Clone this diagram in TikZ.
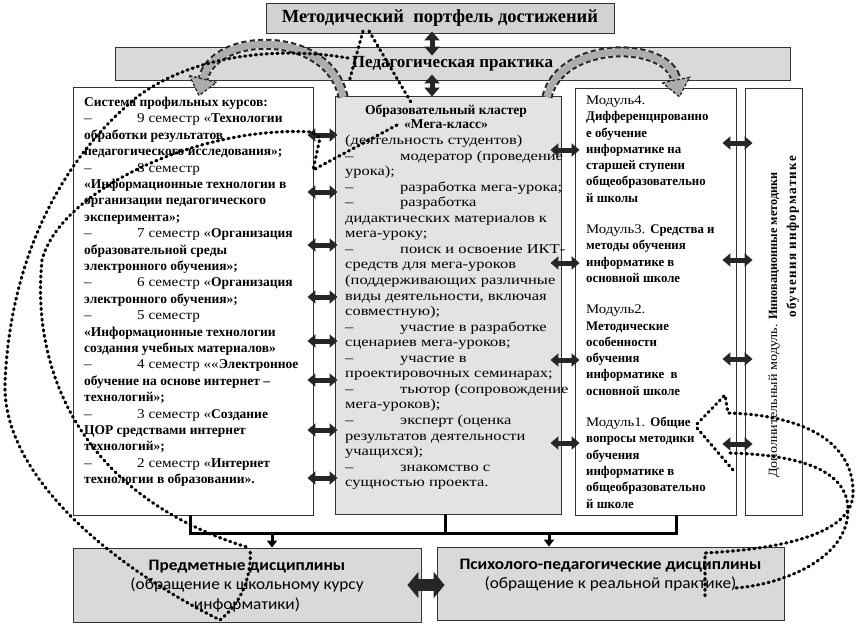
\documentclass[tikz,border=0pt]{standalone}
\usepackage{fontspec}
\setmainfont{Liberation Serif}
\newfontfamily\wserif[FakeStretch=1.12]{Liberation Serif}
\newfontfamily\cserif[FakeStretch=1.22]{Liberation Serif}
\newfontfamily\bsf[FakeStretch=1.0]{Liberation Serif Bold}
\newfontfamily\bsfm[FakeStretch=0.97]{Liberation Serif Bold}
\newfontfamily\calib[FakeStretch=1.08]{Carlito}
\newcommand\B[1]{{\bsf #1}}
\newcommand\M[1]{{\bsfm #1}}
\usetikzlibrary{arrows.meta}
\newcommand\ldash{\makebox[53pt][l]{–}}
\newcommand\cdash{\makebox[55pt][l]{–}}
\tikzset{
 box/.style={draw=black!80, line width=0.9pt, inner sep=0pt},
 graybox/.style={box, fill=gray!30},
 txt/.style={inner sep=0pt, anchor=north west, align=left},
 dbl/.style={draw=black!85, line width=5pt, {Triangle[length=8pt,width=13pt]}-{Triangle[length=8pt,width=13pt]}},
 vdbl/.style={draw=black!85, line width=5pt, {Triangle[length=9pt,width=15pt]}-{Triangle[length=9pt,width=15pt]}},
 bigdbl/.style={draw=black!85, line width=12pt, {Triangle[length=11pt,width=26pt]}-{Triangle[length=11pt,width=26pt]}},
 bracket/.style={line width=3pt, black},
 bracketarrow/.style={line width=3pt, black, -{Triangle[length=7pt,width=10pt]}},
 dots/.style={line width=3.1pt, dash pattern=on 1.2pt off 4.2pt, line cap=round, black},
 arcout/.style={line width=11pt, black!85, dash pattern=on 5pt off 3pt},
 arcin/.style={line width=7pt, gray!65},
 archead/.style={fill=gray!65, draw=black!85, line width=1.3pt, dash pattern=on 3pt off 2pt},
 bodyfont/.style={font=\wserif\fontsize{13.5}{16.4}\selectfont},
}
\begin{document}
\begin{tikzpicture}[x=1pt,y=-1pt]
\useasboundingbox (0,0) rectangle (858,625);
\fill[white] (0,0) rectangle (858,625);

% boxes
\node[graybox, fill=gray!35, minimum width=348pt, minimum height=30pt,
  font=\bfseries\fontsize{18.5}{21}\selectfont] (top) at (440,18) {Методический\ \ портфель достижений};
\node[graybox, minimum width=675pt, minimum height=33pt,
  font=\bfseries\fontsize{17}{20}\selectfont] (band) at (452.5,63.5) {Педагогическая практика};
\node[box, fill=white, minimum width=240pt, minimum height=428pt] (lbox) at (193,301) {};
\node[graybox, fill=gray!22, minimum width=226pt, minimum height=418pt] (cbox) at (448,305) {};
\node[box, fill=white, minimum width=161pt, minimum height=427pt] (mbox) at (655.5,301.5) {};
\node[box, fill=white, minimum width=57pt, minimum height=427pt] (vbox) at (773.5,301.5) {};
\node[graybox, minimum width=348pt, minimum height=74pt] (blbox) at (247,585) {};
\node[graybox, minimum width=347pt, minimum height=73pt] (brbox) at (610.5,583.5) {};

% texts
\node[txt, bodyfont] (ltext) at (84,97) {%
\B{Система профильных курсов:}\\
\ldash 9 семестр «\B{Технологии}\\
\B{обработки результатов}\\
\B{педагогического исследования»;}\\
\ldash 8 семестр\\
\B{«Информационные технологии в}\\
\B{организации педагогического}\\
\B{эксперимента»;}\\
\ldash 7 семестр «\B{Организация}\\
\B{образовательной среды}\\
\B{электронного обучения»;}\\
\ldash 6 семестр «\B{Организация}\\
\B{электронного обучения»;}\\
\ldash 5 семестр\\
\B{«Информационные технологии}\\
\B{создания учебных материалов»}\\
\ldash 4 семестр ««\B{Электронное}\\
\B{обучение на основе интернет –}\\
\B{технологий»;}\\
\ldash 3 семестр «\B{Создание}\\
\B{ЦОР средствами интернет}\\
\B{технологий»;}\\
\ldash 2 семестр «\B{Интернет}\\
\B{технологии в образовании».}};

\node[inner sep=0pt, align=center, font=\bsf\fontsize{13.5}{14}\selectfont] (ctitle) at (446,116.5) {Образовательный кластер\\«Мега-класс»};
\node[txt, font=\cserif\fontsize{13.5}{15.55}\selectfont] (ctext) at (345,135) {%
(деятельность студентов)\\
\cdash модератор (проведение\\
урока);\\
\cdash разработка мега-урока;\\
\cdash разработка\\
дидактических материалов к\\
мега-уроку;\\
\cdash поиск и освоение ИКТ-\\
средств для мега-уроков\\
(поддерживающих различные\\
виды деятельности, включая\\
совместную);\\
\cdash участие в разработке\\
сценариев мега-уроков;\\
\cdash участие в\\
проектировочных семинарах;\\
\cdash тьютор (сопровождение\\
мега-уроков);\\
\cdash эксперт (оценка\\
результатов деятельности\\
учащихся);\\
\cdash знакомство с\\
сущностью проекта.};

\node[txt, font=\wserif\fontsize{13.2}{16.3}\selectfont] (mtext) at (586,95.5) {%
Модуль4.\\
\M{Дифференцированно}\\
\M{е обучение}\\
\M{информатике на}\\
\M{старшей ступени}\\
\M{общеобразовательно}\\
\M{й школы}\\[15pt]
Модуль3. \M{Средства и}\\
\M{методы обучения}\\
\M{информатике в}\\
\M{основной школе}\\[15pt]
Модуль2.\\
\M{Методические}\\
\M{особенности}\\
\M{обучения}\\
\M{информатике\ \ в}\\
\M{основной школе}\\[15pt]
Модуль1. \M{Общие}\\
\M{вопросы методики}\\
\M{обучения}\\
\M{информатике в}\\
\M{общеобразовательно}\\
\M{й школе}};

\node[rotate=90, anchor=base west, inner sep=0pt, font=\wserif\fontsize{12.6}{16}\selectfont] (vt1) at (777,478) {Дополнительный модуль. \M{Инновационные методики}};
\node[rotate=90, anchor=base west, inner sep=0pt, font=\bsfm\fontsize{13.5}{14}\selectfont\addfontfeatures{LetterSpace=10}] (vt2) at (796,318) {обучения информатике};

\node[inner sep=0pt, align=center, font=\calib\fontsize{16}{19.5}\selectfont] (bltext) at (247,586) {\textbf{Предметные дисциплины}\\(обращение к школьному курсу\\информатики)};
\node[inner sep=0pt, align=center, font=\calib\fontsize{16}{19.5}\selectfont] (brtext) at (610.5,575) {\textbf{Психолого-педагогические дисциплины}\\(обращение к реальной практике)};

% vertical arrows at top
\draw[vdbl, shorten <=-2pt, shorten >=-9pt] ([xshift=-8pt]top.south) -- ([xshift=-8pt]top.south |- band.north);
\draw[vdbl, shorten <=-6pt, shorten >=-1pt] ([xshift=-8pt]top.south |- band.south) -- ([xshift=-8pt]top.south |- cbox.north);

% horizontal double arrows
\foreach \yy in {135,192,245,297,341,380,430,478}
  \draw[dbl, shorten <=-6pt, shorten >=-3pt] (lbox.east |- 0,\yy) -- (cbox.west |- 0,\yy);
\foreach \yy in {150,263,360,443}
  \draw[dbl, shorten <=-11pt, shorten >=-5pt] (cbox.east |- 0,\yy) -- (mbox.west |- 0,\yy);
\foreach \yy in {143,260,359,444}
  \draw[dbl, shorten <=-14pt, shorten >=-8pt] (mbox.east |- 0,\yy) -- (vbox.west |- 0,\yy);

% bracket to bottom boxes
\coordinate (jL) at (190,533);
\coordinate (jR) at (676,533);
\coordinate (jA) at (272,533);
\coordinate (jB) at (549,533);
\draw[bracket] (lbox.south -| jL) -- (jL) -- (jR) -- (mbox.south -| jR);
\draw[bracket] ([xshift=-3pt]cbox.south) -- ([xshift=-3pt]cbox.south |- jL);
\draw[bracketarrow] (jA) -- (blbox.north -| jA);
\draw[bracketarrow] (jB) -- (brbox.north -| jB);
\draw[bigdbl, shorten <=-14pt, shorten >=-8pt] (blbox.east |- 0,585) -- (brbox.west |- 0,585);

% gray dashed arcs
\coordinate (a1s) at (343,97);
\coordinate (a1e) at (203,79);
\coordinate (a2s) at (547,97);
\coordinate (a2e) at (676,80);
\draw[arcout] (a1s) .. controls (330,30) and (215,30) .. (a1e);
\draw[arcin] (a1s) .. controls (330,30) and (215,30) .. (a1e);
\filldraw[archead] (189.4,75.6) -- (216.6,82.4) -- (199,95.5) -- cycle;
\draw[arcout] (a2s) .. controls (560,40) and (668,40) .. (a2e);
\draw[arcin] (a2s) .. controls (560,40) and (668,40) .. (a2e);
\filldraw[archead] (662.3,82.7) -- (689.7,77.3) -- (679.3,96.7) -- cycle;

% dotted hand-drawn loops
\draw[dots] (363,31) -- (349,82);
\draw[dots] (369,31) -- (412,104);
\draw[dots] (348,58) .. controls (290,48) and (200,50) .. (137,97)
  .. controls (60,160) and (10,260) .. (5,383)
  .. controls (2,470) and (100,560) .. (220,620)
  .. controls (245,600) and (252,570) .. (250,548);
\draw[dots] (397,125) -- (313,170) -- (320,138) -- (312,132)
  .. controls (200,125) and (60,190) .. (42,260)
  .. controls (30,380) and (90,500) .. (250,548);
\draw[dots] (697,424) -- (725,395) -- (728,413)
  .. controls (800,415) and (855,440) .. (853,495)
  .. controls (850,540) and (760,550) .. (705,553) -- (705,596);
\draw[dots] (697,428) -- (733,470);
\draw[dots] (730,453) .. controls (800,455) and (848,470) .. (848,510)
  .. controls (848,560) and (780,585) .. (735,588);
\end{tikzpicture}
\end{document}
